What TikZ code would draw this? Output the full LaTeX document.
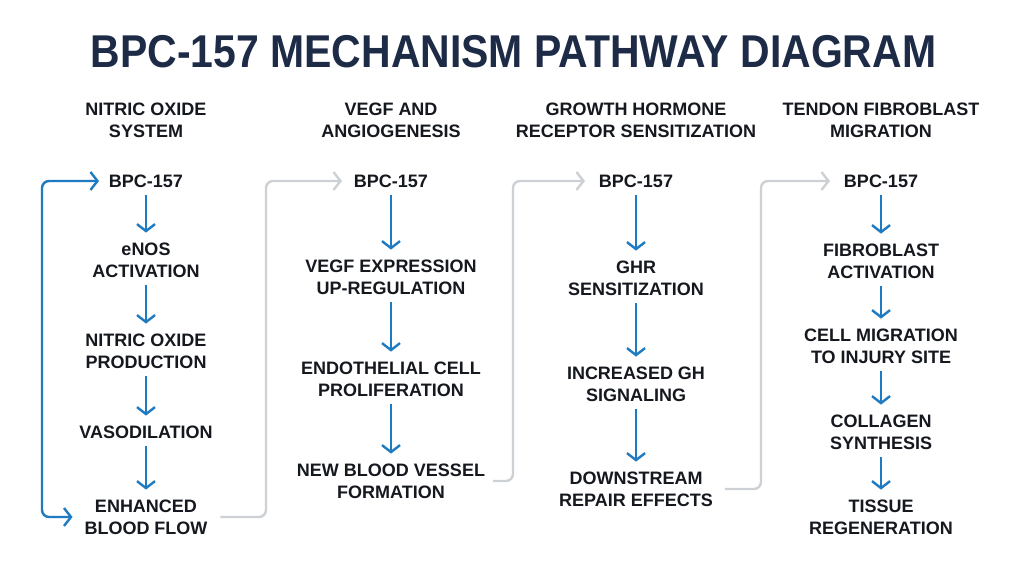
\documentclass[tikz,border=0pt]{standalone}
\usepackage{fontspec}
\setmainfont{Liberation Sans}
\usetikzlibrary{arrows.meta}
\definecolor{titlecol}{HTML}{1D2B47}
\definecolor{txtcol}{HTML}{15181E}
\definecolor{arrblue}{HTML}{1E7BC2}
\definecolor{conngray}{HTML}{CDD1D6}
\tikzset{
  lbl/.style={font=\fontsize{18}{22}\selectfont\bfseries, text=txtcol, align=center, inner sep=0pt, outer sep=0pt},
  hdr/.style={lbl},
  flow/.style={draw=arrblue, line width=2.4pt, -{Straight Barb[length=7pt,width=18pt,line width=2.4pt]}, shorten <=8pt, shorten >=10pt},
  loopconn/.style={draw=arrblue, line width=2.4pt, rounded corners=7pt, {Straight Barb[length=7pt,width=18pt,line width=2.4pt]}-{Straight Barb[length=7pt,width=18pt,line width=2.4pt]}},
  grayconn/.style={draw=conngray, line width=2.4pt, rounded corners=7pt, -{Straight Barb[length=7pt,width=18pt,line width=2.4pt]}},
}
\begin{document}
\begin{tikzpicture}[x=1pt,y=-1pt]
\useasboundingbox[fill=white] (0,0) rectangle (1024,572);
% title
\node[inner sep=0pt, text=titlecol, font=\fontsize{46}{50}\selectfont\bfseries] (title) at (513.5,52) {\scalebox{0.89}[1]{BPC-157 MECHANISM PATHWAY DIAGRAM}};
% headers
\node[hdr] (h1) at (146,120) {NITRIC OXIDE\\SYSTEM};
\node[hdr] (h2) at (391,120) {VEGF AND\\ANGIOGENESIS};
\node[hdr] (h3) at (636,120) {GROWTH HORMONE\\RECEPTOR SENSITIZATION};
\node[hdr] (h4) at (881,120) {TENDON FIBROBLAST\\MIGRATION};
% column 1
\node[lbl] (b1) at (146,181) {BPC-157};
\node[lbl] (c1a) at (146,260) {eNOS\\ACTIVATION};
\node[lbl] (c1b) at (146,351) {NITRIC OXIDE\\PRODUCTION};
\node[lbl] (c1c) at (146,432) {VASODILATION};
\node[lbl] (e1) at (146,517) {ENHANCED\\BLOOD FLOW};
% column 2
\node[lbl] (b2) at (391,181) {BPC-157};
\node[lbl] (c2a) at (391,277) {VEGF EXPRESSION\\UP-REGULATION};
\node[lbl] (c2b) at (391,379) {ENDOTHELIAL CELL\\PROLIFERATION};
\node[lbl] (e2) at (391,481) {NEW BLOOD VESSEL\\FORMATION};
% column 3
\node[lbl] (b3) at (636,181) {BPC-157};
\node[lbl] (c3a) at (636,278) {GHR\\SENSITIZATION};
\node[lbl] (c3b) at (636,384) {INCREASED GH\\SIGNALING};
\node[lbl] (e3) at (636,489) {DOWNSTREAM\\REPAIR EFFECTS};
% column 4
\node[lbl] (b4) at (881,181) {BPC-157};
\node[lbl] (c4a) at (881,261) {FIBROBLAST\\ACTIVATION};
\node[lbl] (c4b) at (881,346) {CELL MIGRATION\\TO INJURY SITE};
\node[lbl] (c4c) at (881,432) {COLLAGEN\\SYNTHESIS};
\node[lbl] (e4) at (881,517) {TISSUE\\REGENERATION};
% vertical flows
\draw[flow] (b1) -- (c1a);
\draw[flow] (c1a) -- (c1b);
\draw[flow] (c1b) -- (c1c);
\draw[flow] (c1c) -- (e1);
\draw[flow] (b2) -- (c2a);
\draw[flow] (c2a) -- (c2b);
\draw[flow] (c2b) -- (e2);
\draw[flow] (b3) -- (c3a);
\draw[flow] (c3a) -- (c3b);
\draw[flow] (c3b) -- (e3);
\draw[flow] (b4) -- (c4a);
\draw[flow] (c4a) -- (c4b);
\draw[flow] (c4b) -- (c4c);
\draw[flow] (c4c) -- (e4);
% loop
\coordinate (L) at (42,0);
\draw[loopconn] ([xshift=-10pt]b1.west) -| (L |- e1.west) -- ([xshift=-12pt]e1.west);
% gray connectors
\coordinate (V1) at (266,0);
\coordinate (V2) at (513,0);
\coordinate (V3) at (761,0);
\draw[grayconn] ([xshift=13pt]e1.east) -| (V1 |- b2.west) -- ([xshift=-12pt]b2.west);
\draw[grayconn] ([xshift=8pt]e2.east) -| (V2 |- b3.west) -- ([xshift=-14pt]b3.west);
\draw[grayconn] ([xshift=12pt]e3.east) -| (V3 |- b4.west) -- ([xshift=-14pt]b4.west);
\end{tikzpicture}
\end{document}
